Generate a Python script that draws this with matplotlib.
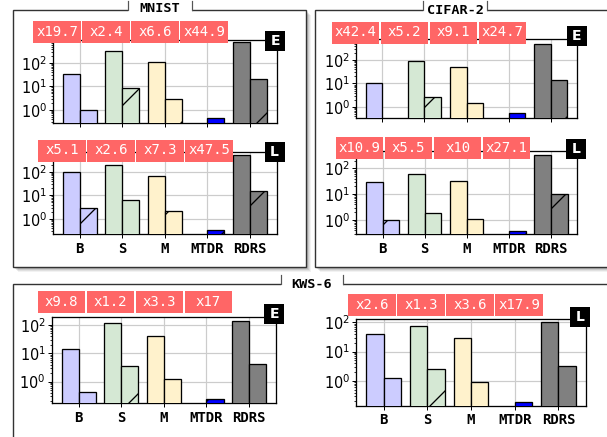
import numpy as np
import matplotlib
matplotlib.use('Agg')
import matplotlib.pyplot as plt
from matplotlib.patches import Rectangle
from matplotlib.lines import Line2D

# render at high dpi so the '/' hatch comes out sparse like the original
DPI = 228
W, H = 607, 437
PT = 72 / DPI   # one pixel expressed in points

groups = ['B', 'S', 'M', 'MTDR', 'RDRS']
colors = ['#ccccff', '#d5e8d4', '#fff2cc', '#0000ff', '#808080']
nan = np.nan

# plain bars / hatched bars for each dataset and setting (E, L)
mnist_e_plain = [34, 310, 107, nan, 765]
mnist_e_hatch = [1.0, 8.5, 3.0, 0.43, 21]
mnist_l_plain = [94, 190, 68, nan, 505]
mnist_l_hatch = [3.0, 6.2, 2.2, 0.33, 15]

cifar_e_plain = [10.8, 91, 50, nan, 465]
cifar_e_hatch = [0.3, 2.7, 1.43, 0.56, 14]
cifar_l_plain = [30.6, 62, 32.4, nan, 330]
cifar_l_hatch = [0.97, 1.92, 1.06, 0.39, 10.4]

kws_e_plain = [13.8, 114, 42, nan, 138]
kws_e_hatch = [0.42, 3.47, 1.28, 0.24, 4.2]
kws_l_plain = [39, 77, 28.5, nan, 100]
kws_l_hatch = [1.3, 2.6, 0.92, 0.19, 3.2]

mnist_e_labels = ['x19.7', 'x2.4', 'x6.6', 'x44.9']
mnist_l_labels = ['x5.1', 'x2.6', 'x7.3', 'x47.5']
cifar_e_labels = ['x42.4', 'x5.2', 'x9.1', 'x24.7']
cifar_l_labels = ['x10.9', 'x5.5', 'x10', 'x27.1']
kws_e_labels = ['x9.8', 'x1.2', 'x3.3', 'x17']
kws_l_labels = ['x2.6', 'x1.3', 'x3.6', 'x17.9']

plt.rcParams['hatch.linewidth'] = 1.3 * PT
plt.rcParams['hatch.color'] = 'black'

fig = plt.figure(figsize=(W / DPI, H / DPI), dpi=DPI, facecolor='white')


def fx(x):
    return x / W


def fy(y):
    return 1 - y / H


def frame(l, t, r, b, title, tl, tr, ty):
    # soft shadow
    for k, a in [(5, 0.05), (4, 0.07), (3, 0.09), (2, 0.11), (1, 0.13)]:
        fig.add_artist(Rectangle((fx(l + k), fy(b + k)), (r - l) / W, (b - t) / H,
                                 transform=fig.transFigure, facecolor='black',
                                 edgecolor='none', alpha=a, zorder=-10))
    fig.add_artist(Rectangle((fx(l), fy(b)), (r - l) / W, (b - t) / H,
                             transform=fig.transFigure, facecolor='white',
                             edgecolor='#333333', lw=1.4 * PT, zorder=-9))
    # title tab breaking the frame line
    fig.add_artist(Rectangle((fx(tl), fy(t + 3)), (tr - tl) / W, 12 / H,
                             transform=fig.transFigure, facecolor='white',
                             edgecolor='none', zorder=-8))
    for xx in (tl, tr):
        fig.add_artist(Line2D([fx(xx), fx(xx)], [fy(t - 9), fy(t)],
                              transform=fig.transFigure, color='#555555',
                              lw=1.2 * PT, zorder=-8))
    fig.text(fx((tl + tr) / 2), fy(ty), title, ha='center', va='center',
             family='DejaVu Sans Mono', weight='bold', size=13.5 * PT, zorder=-7)


def panel(box, plain, hatch, ylim, labels, lab_x, lab_y, tag, tag_xy, show_x):
    l, t, r, b = box
    ax = fig.add_axes([fx(l), fy(b), (r - l) / W, (b - t) / H])
    x = np.arange(len(groups))
    ax.set_yscale('log')
    ax.bar(x - 0.2, plain, 0.4, color=colors, edgecolor='black',
           lw=1.3 * PT, zorder=3)
    ax.bar(x + 0.2, hatch, 0.4, color=colors, edgecolor='black',
           lw=1.3 * PT, hatch='/', zorder=3)
    ax.set_ylim(*ylim)
    ax.set_xlim(-0.63, 4.63)
    ax.set_xticks(x)
    ax.set_xticklabels(groups if show_x else [])
    for lbl in ax.get_xticklabels():
        lbl.set_fontfamily('DejaVu Sans Mono')
        lbl.set_fontweight('bold')
    ax.grid(True, which='major', color='#cccccc', lw=1.2 * PT)
    ax.set_axisbelow(True)
    for sp in ax.spines.values():
        sp.set_linewidth(1.3 * PT)
    ax.tick_params(axis='x', length=4 * PT, width=1 * PT, pad=3.5 * PT,
                   labelsize=14 * PT)
    ax.tick_params(axis='y', which='major', length=4.5 * PT, width=1 * PT,
                   pad=1.5 * PT, labelsize=14.5 * PT)
    ax.tick_params(axis='y', which='minor', length=2.5 * PT, width=0.8 * PT)

    # ratio boxes
    for i, s in enumerate(labels):
        x0 = lab_x + i * 49
        fig.add_artist(Rectangle((fx(x0), fy(lab_y + 11)), 47.3 / W, 22 / H,
                                 transform=fig.transFigure, facecolor='#ff6666',
                                 edgecolor='none', zorder=10))
        fig.text(fx(x0 + 23.65), fy(lab_y), s, ha='center', va='center',
                 color='white', family='DejaVu Sans Mono', size=14 * PT, zorder=11)

    # E / L tag
    cx, cy = tag_xy
    fig.add_artist(Rectangle((fx(cx - 10), fy(cy + 10)), 20 / W, 20 / H,
                             transform=fig.transFigure, facecolor='black',
                             edgecolor='none', zorder=10))
    fig.text(fx(cx), fy(cy), tag, ha='center', va='center', color='white',
             weight='bold', size=14 * PT, zorder=11)
    return ax


frame(13.3, 10, 305.5, 266.7, 'MNIST', 128, 192, 9)
frame(315, 10, 640, 267, 'CIFAR-2', 423, 487, 10.5)
frame(13.3, 284, 640, 470, 'KWS-6', 281, 343, 285)

panel((53, 40, 276.7, 122.7), mnist_e_plain, mnist_e_hatch, (0.28, 950),
      mnist_e_labels, 33.3, 31.7, 'E', (275, 41), False)
panel((53, 151.7, 276.7, 234), mnist_l_plain, mnist_l_hatch, (0.232, 700),
      mnist_l_labels, 38.3, 150.5, 'L', (274.5, 151.7), True)
panel((356, 39, 577, 118.3), cifar_e_plain, cifar_e_hatch, (0.33, 780),
      cifar_e_labels, 331.7, 32.5, 'E', (576.5, 35.5), False)
panel((356, 151, 577.3, 234.3), cifar_l_plain, cifar_l_hatch, (0.28, 468),
      cifar_l_labels, 336, 148, 'L', (576.3, 148.8), True)
panel((51.7, 316.7, 276, 403.3), kws_e_plain, kws_e_hatch, (0.17, 196),
      kws_e_labels, 37.7, 301.7, 'E', (274.3, 313.8), True)
panel((356, 319.3, 586, 406), kws_l_plain, kws_l_hatch, (0.14, 126),
      kws_l_labels, 348.3, 305, 'L', (580.3, 316.7), True)

fig.savefig('out.png', dpi=DPI)
